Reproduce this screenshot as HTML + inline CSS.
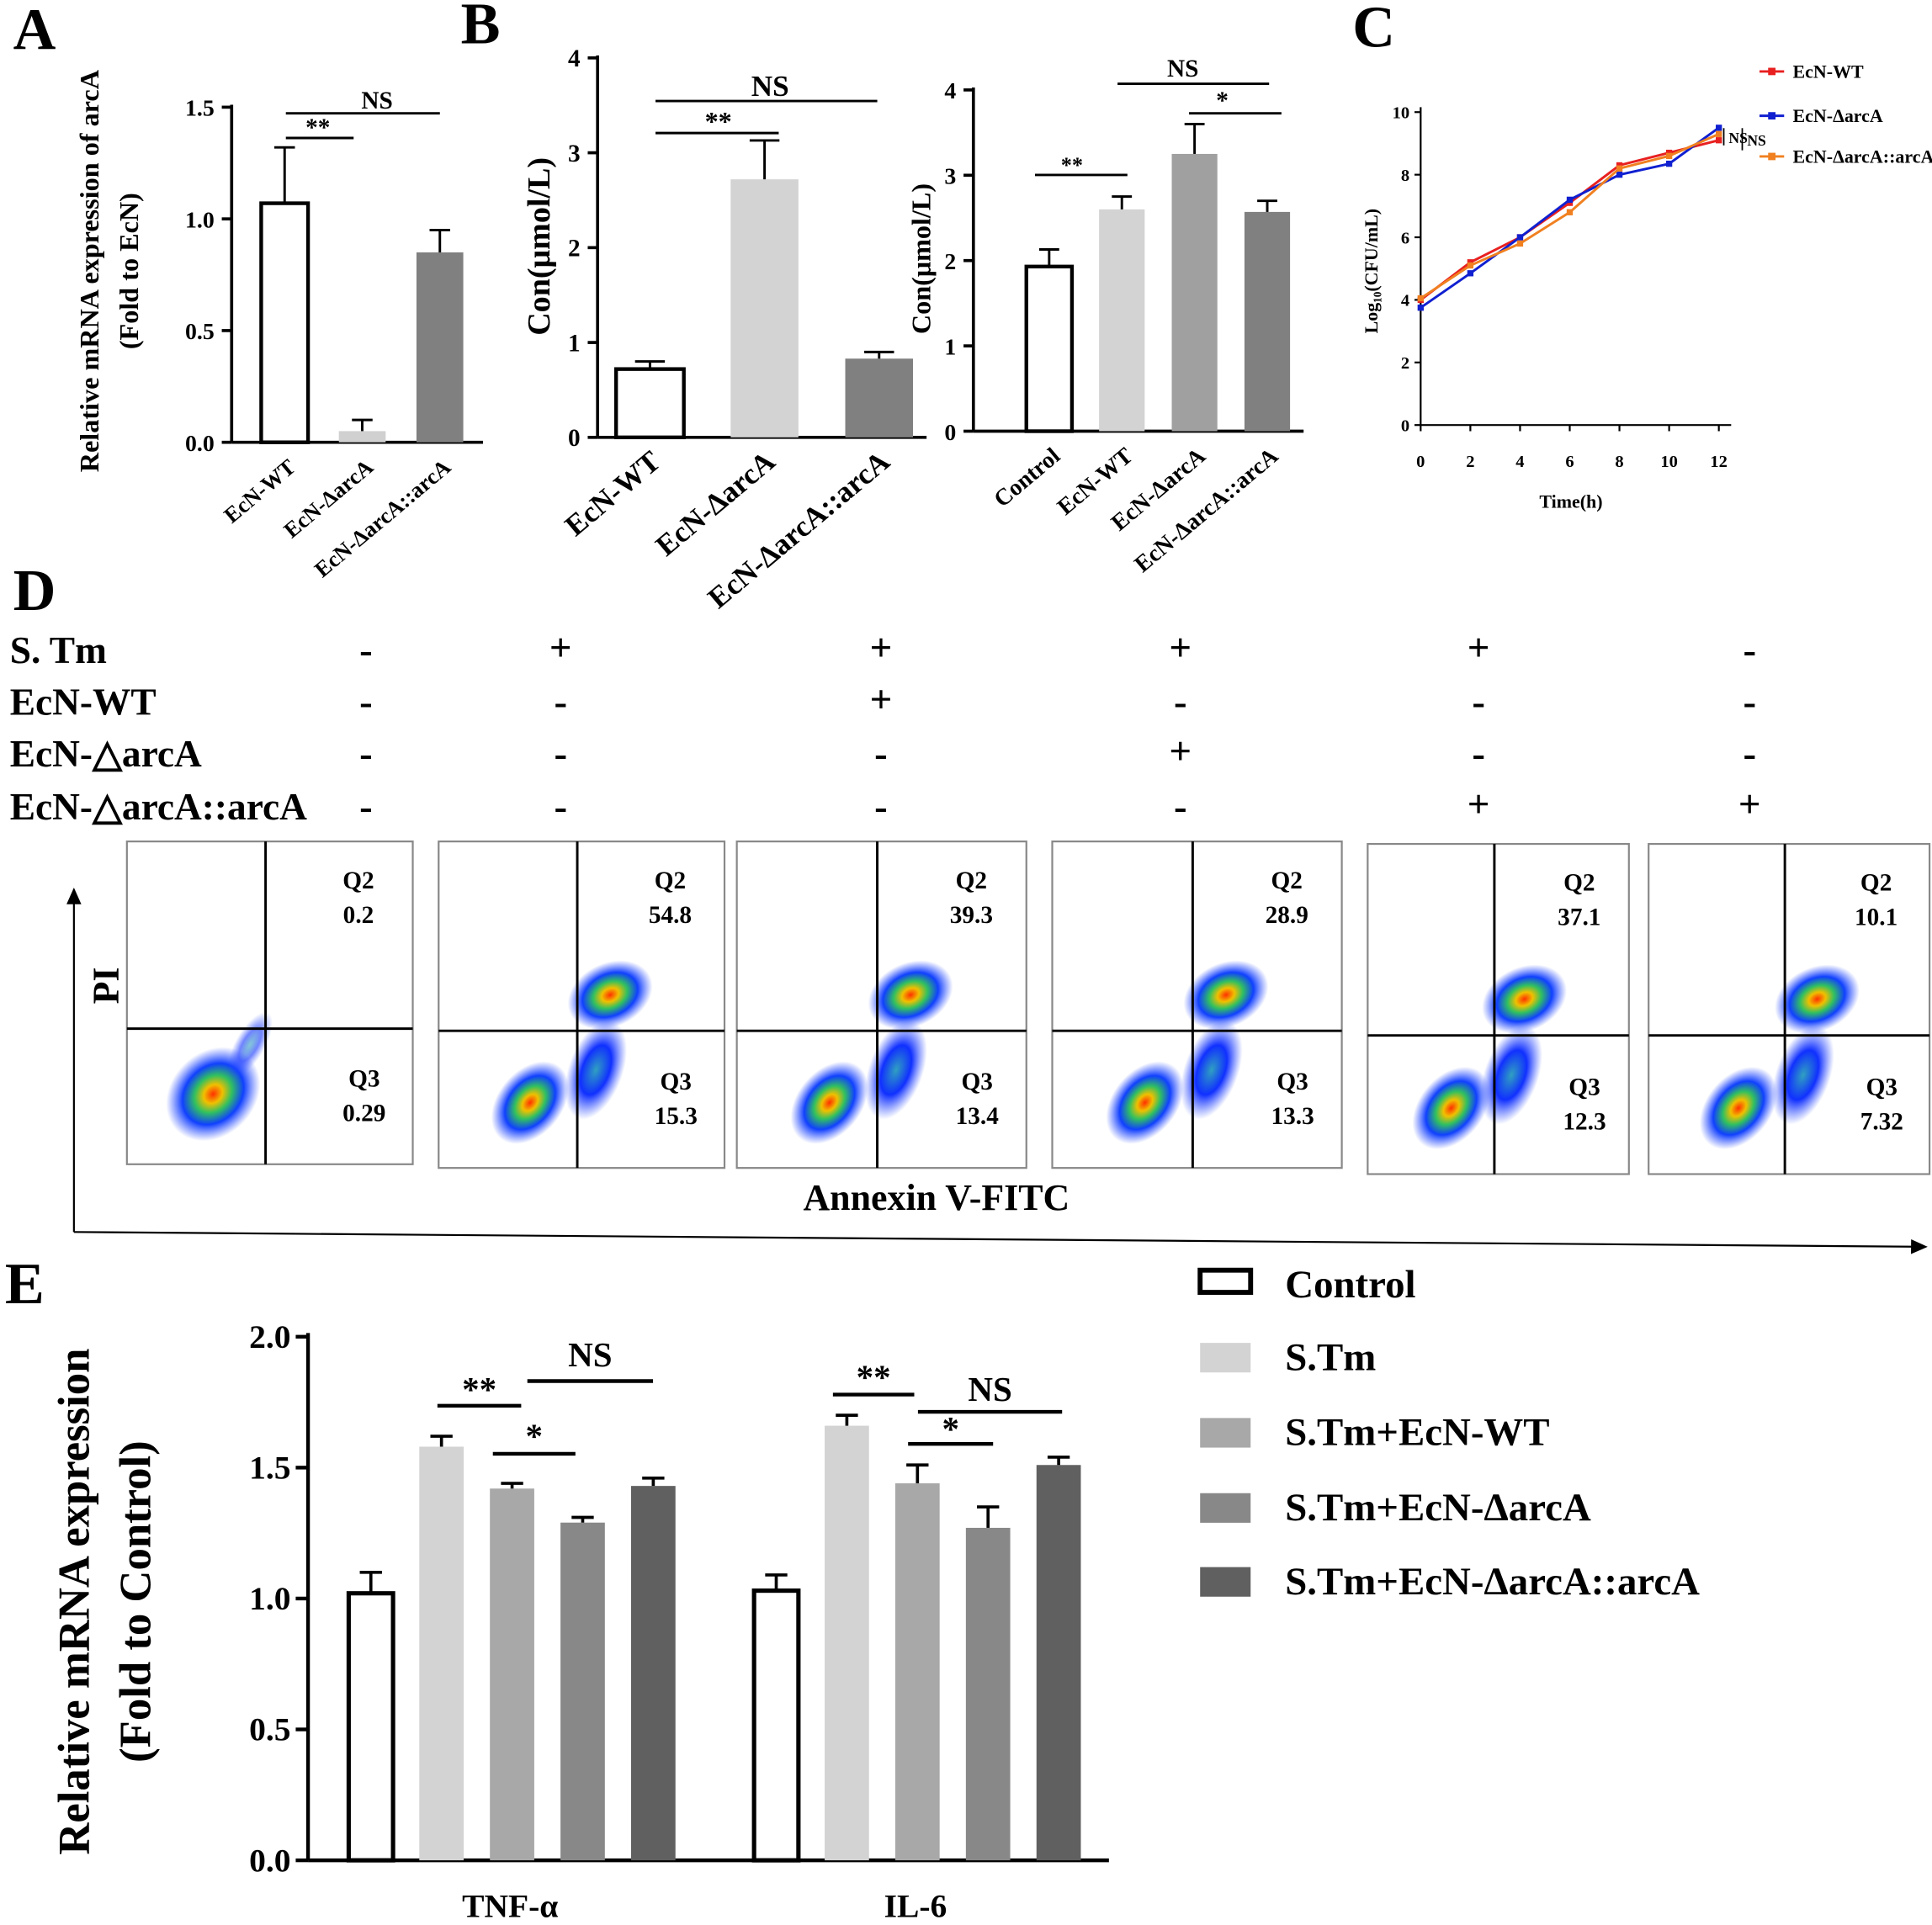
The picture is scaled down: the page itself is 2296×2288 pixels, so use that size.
<!DOCTYPE html>
<html><head><meta charset="utf-8">
<style>
html,body{margin:0;padding:0;background:#fff;}
svg{display:block;font-family:"Liberation Serif",serif;font-weight:bold;}
</style></head>
<body>
<svg id="fig" width="2296" height="2288" viewBox="0 0 1568 1562.5" preserveAspectRatio="none" xmlns="http://www.w3.org/2000/svg">
<defs>
<radialGradient id="blob" cx="50%" cy="50%" r="50%">
<stop offset="0" stop-color="#ff3000"/><stop offset="0.2" stop-color="#f0c000"/><stop offset="0.4" stop-color="#30c060"/><stop offset="0.65" stop-color="#1040ff"/><stop offset="1" stop-color="#3050ff" stop-opacity="0"/>
</radialGradient>
<radialGradient id="blobB" cx="50%" cy="50%" r="50%">
<stop offset="0" stop-color="#30a0c0"/><stop offset="0.5" stop-color="#1030ff"/><stop offset="1" stop-color="#3050ff" stop-opacity="0"/>
</radialGradient>
<marker id="arr" markerWidth="10" markerHeight="10" refX="8" refY="5" orient="auto"><path d="M0,1 L9,5 L0,9 z" fill="#000"/></marker>
</defs>
<g id="root"></g>
</svg>
<script>
// ---------- DATA ----------
const aCats = ["EcN-WT","EcN-ΔarcA","EcN-ΔarcA::arcA"];
const aVals = [1.07,0.05,0.85];
const aErr = [1.32,0.10,0.95];
const b1Cats = ["EcN-WT","EcN-ΔarcA","EcN-ΔarcA::arcA"];
const b1Vals = [0.72,2.72,0.83];
const b1Err = [0.80,3.13,0.90];
const b2Cats = ["Control","EcN-WT","EcN-ΔarcA","EcN-ΔarcA::arcA"];
const b2Vals = [1.93,2.60,3.25,2.57];
const b2Err = [2.13,2.75,3.60,2.70];
const cTimes = [0,2,4,6,8,10,12];
const cWT = [4.0,5.2,6.0,7.1,8.3,8.7,9.1];
const cDel = [3.75,4.85,6.0,7.2,8.0,8.35,9.5];
const cComp = [4.05,5.1,5.8,6.8,8.2,8.6,9.3];
const eGroups = ["TNF-α","IL-6"];
const eSeries = ["Control","S.Tm","S.Tm+EcN-WT","S.Tm+EcN-ΔarcA","S.Tm+EcN-ΔarcA::arcA"];
const eTNF = [1.02,1.58,1.42,1.29,1.43];
const eTNFerr = [1.10,1.62,1.44,1.31,1.46];
const eIL6 = [1.03,1.66,1.44,1.27,1.51];
const eIL6err = [1.09,1.70,1.51,1.35,1.54];
const dQ2 = ["0.2","54.8","39.3","28.9","37.1","10.1"];
const dQ3 = ["0.29","15.3","13.4","13.3","12.3","7.32"];

const NS="http://www.w3.org/2000/svg";
const root=document.getElementById('root');
function el(tag,attrs,parent,text){const e=document.createElementNS(NS,tag);for(const k in attrs)e.setAttribute(k,attrs[k]);if(text!==undefined)e.textContent=text;(parent||root).appendChild(e);return e;}
function line(x1,y1,x2,y2,w,p){return el('line',{x1,y1,x2,y2,stroke:'#000','stroke-width':w||2},p);}
function txt(x,y,s,size,p,anchor,extra){const t=el('text',Object.assign({x,y,'font-size':size,'text-anchor':anchor||'middle'},extra||{}),p,s);return t;}

// ---------- generic bar chart ----------
function barChart(o){
  const g=el('g',{});
  
  
  const y=v=>o.y0-(v-0)*(o.y0-o.yTop)/o.yMax;
  line(o.x0,o.yTop-2,o.x0,o.y0,2.5,g);
  line(o.x0,o.y0,o.xEnd,o.y0,2.5,g);
  o.ticks.forEach(t=>{const ty=y(t);line(o.x0-8,ty,o.x0,ty,2.5,g);
    const lt=txt(o.x0-14,ty+7,o.tickFmt(t),o.tickSize,g,'end');
    });
  o.vals.forEach((v,i)=>{
    const x=o.x0+o.first+i*o.step, w=o.bw;
    const r=el('rect',{x:x,y:y(v),width:w,height:o.y0-y(v),fill:o.fills[i],stroke:o.fills[i]=='#fff'?'#000':'none','stroke-width':3},g);
    
    const cx=x+w/2;
    line(cx,y(v),cx,y(o.err[i]),2,g);line(cx-w*0.22,y(o.err[i]),cx+w*0.22,y(o.err[i]),2,g);
    if(o.cats){const lt=txt(0,0,o.cats[i],o.labSize,g,'end',{transform:`translate(${cx+10},${o.y0+22}) rotate(-40)`});
      }
  });
  return {g,y};
}

// ---------- Panel A ----------
txt(28,40,"A",48);
{barChart({name:'panel-a-chart',x0:188,y0:359,yTop:87,yMax:1.5,xEnd:392,ticks:[0,0.5,1,1.5],tickFmt:t=>t.toFixed(1),tickSize:19,
 vals:aVals,err:aErr,first:24,step:63,bw:38,fills:['#fff','#d0d0d0','#808080'],cats:aCats,labSize:18});
 line(232,112,287,112,2);txt(258,110,"**",20);line(232,92,357,92,2);txt(306,88,"NS",20);
 txt(0,0,"Relative mRNA expression of arcA",22,null,'middle',{transform:'translate(80,220) rotate(-90)'});
 txt(0,0,"(Fold to EcN)",22,null,'middle',{transform:'translate(112,220) rotate(-90)'});}

// ---------- Panel B ----------
txt(390,35,"B",48);
{barChart({name:'panel-b-left-chart',x0:485,y0:355,yTop:47,yMax:4,xEnd:752,ticks:[0,1,2,3,4],tickFmt:t=>String(t),tickSize:20,
 vals:b1Vals,err:b1Err,first:15,step:93,bw:55,fills:['#fff','#d3d3d3','#808080'],cats:b1Cats,labSize:24});
 line(532,108,632,108,2);txt(583,106,"**",22);line(532,82,712,82,2);txt(625,78,"NS",24);
 txt(0,0,"Con(μmol/L)",26,null,'middle',{transform:'translate(446,200) rotate(-90)'});}
{barChart({name:'panel-b-right-chart',x0:790,y0:350,yTop:73,yMax:4,xEnd:1058,ticks:[0,1,2,3,4],tickFmt:t=>String(t),tickSize:19,
 vals:b2Vals,err:b2Err,first:43,step:59,bw:37,fills:['#fff','#d3d3d3','#a0a0a0','#808080'],cats:b2Cats,labSize:19});
 line(840,142,915,142,2);txt(870,140,"**",18);line(907,68,1030,68,2);txt(960,62,"NS",20);line(965,92,1040,92,2);txt(992,88,"*",20);
 txt(0,0,"Con(μmol/L)",22,null,'middle',{transform:'translate(755,210) rotate(-90)'});}

// ---------- Panel C ----------
txt(1115,38,"C",48);
{const g=el('g',{});
 const x0=1153,y0=345,yT=91,xE=1395;
 const X=t=>x0+t*(xE-x0)/12, Y=v=>y0-v*(y0-yT)/10;
 line(x0,yT-4,x0,y0,1.5,g);line(x0,y0,xE+10,y0,1.5,g);
 [0,2,4,6,8,10].forEach(v=>{line(x0-5,Y(v),x0,Y(v),1.5,g);txt(x0-9,Y(v)+5,String(v),14,g,'end');});
 cTimes.forEach(t=>{line(X(t),y0,X(t),y0+5,1.5,g);txt(X(t),y0+34,String(t),14,g);});
 txt(1275,412,"Time(h)",15,g);
 txt(0,0,"Log₁₀(CFU/mL)",15,g,'middle',{transform:'translate(1118,220) rotate(-90)'});
 [[cWT,'#e82020','ecn-wt'],[cDel,'#1020d0','ecn-delta-arca'],[cComp,'#f08020','ecn-complemented']].forEach(([d,col,n])=>{
   const pts=d.map((v,i)=>X(cTimes[i])+','+Y(v)).join(' ');
   const pl=el('polyline',{points:pts,fill:'none',stroke:col,'stroke-width':2},g);
   
   d.forEach((v,i)=>el('rect',{x:X(cTimes[i])-2.5,y:Y(v)-2.5,width:5,height:5,fill:col},g));
 });
 txt(1403,116,"NS",12,g,'start');txt(1418,118,"NS",12,g,'start');
 line(1399,104,1399,118,1.2,g);line(1414,104,1414,122,1.2,g);
 [["EcN-WT",'#e82020',58],["EcN-ΔarcA",'#1020d0',94],["EcN-ΔarcA::arcA",'#f08020',127]].forEach(([s,col,yy])=>{
   line(1428,yy,1448,yy,2,g).setAttribute('stroke',col);el('rect',{x:1435,y:yy-3,width:6,height:6,fill:col},g);
   const lt=txt(1455,yy+5,s,15,g,'start');});
}

// ---------- Panel D ----------
txt(28,495,"D",48);
const rowLabels=["S. Tm","EcN-WT","EcN-△arcA","EcN-△arcA::arcA"];
const rowY=[538,580,622,665];
const colX=[297,455,715,958,1200,1420];
const signs=[["-","+","+","+","+","-"],["-","-","+","-","-","-"],["-","-","-","+","-","-"],["-","-","-","-","+","+"]];
rowLabels.forEach((s,r)=>{const t=txt(8,rowY[r],s,31,null,'start');
 signs[r].forEach((sg,c)=>txt(colX[c],rowY[r]-(sg=='+'?2:0),sg,32));});
const boxes=[[103,683,232,262],[356,683,232,265],[598,683,235,265],[854,683,235,265],[1110,685,212,268],[1338,685,228,268]];
boxes.forEach((b,i)=>{const [x,y,w,h]=b;const g=el('g',{});
 el('rect',{x,y,width:w,height:h,fill:'#fff',stroke:'#888','stroke-width':1.5},g);
 const vx=x+w*0.485, hy=y+h*0.58;
 if(i==0){el('ellipse',{cx:x+70,cy:y+205,rx:42,ry:34,fill:'url(#blob)',transform:`rotate(-45 ${x+70} ${y+205})`},g);
   el('ellipse',{cx:x+100,cy:y+165,rx:30,ry:12,fill:'url(#blobB)',opacity:0.6,transform:`rotate(-60 ${x+100} ${y+165})`},g);}
 else{el('ellipse',{cx:x+w*0.32,cy:y+h*0.8,rx:38,ry:26,fill:'url(#blob)',transform:`rotate(-50 ${x+w*0.32} ${y+h*0.8})`},g);
   el('ellipse',{cx:x+w*0.55,cy:y+h*0.7,rx:42,ry:22,fill:'url(#blobB)',transform:`rotate(-70 ${x+w*0.55} ${y+h*0.7})`},g);
   el('ellipse',{cx:x+w*0.6,cy:y+h*0.47,rx:36,ry:26,fill:'url(#blob)',transform:`rotate(-25 ${x+w*0.6} ${y+h*0.47})`},g);}
 line(vx,y,vx,y+h,2,g);line(x,hy,x+w,hy,2,g);
 txt(x+w*0.81,y+38,"Q2",20,g);txt(x+w*0.81,y+66,dQ2[i],20,g);
 txt(x+w*0.83,y+h*0.76,"Q3",20,g);txt(x+w*0.83,y+h*0.76+28,dQ3[i],20,g);
});
line(60,1000,60,722,1.5).setAttribute('marker-end','url(#arr)');
line(60,1000,1563,1012,1.5).setAttribute('marker-end','url(#arr)');
txt(0,0,"PI",30,null,'middle',{transform:'translate(96,800) rotate(-90)'});
txt(760,982,"Annexin V-FITC",30);

// ---------- Panel E ----------
txt(20,1058,"E",48);
{const fills=['#fff','#d3d3d3','#a8a8a8','#888888','#606060'];
 const x0=250,y0=1510,yT=1085,yMax=2;
 const Y=v=>y0-v*(y0-yT)/yMax;
 const g=el('g',{});
 line(x0,yT-3,x0,y0,3,g);line(x0,y0,900,y0,3,g);
 [0,0.5,1,1.5,2].forEach(t=>{line(x0-10,Y(t),x0,Y(t),3,g);txt(x0-14,Y(t)+9,t.toFixed(1),27,g,'end');});
 const groupStart=[283,612];
 [[eTNF,eTNFerr],[eIL6,eIL6err]].forEach(([vals,errs],gi)=>{
   vals.forEach((v,i)=>{const x=groupStart[gi]+i*57.3,w=36;
     const r=el('rect',{x,y:Y(v),width:w,height:y0-Y(v),fill:fills[i],stroke:i==0?'#000':'none','stroke-width':3.5},g);
     
     const cx=x+w/2;line(cx,Y(v),cx,Y(errs[i]),2.5,g);line(cx-9,Y(errs[i]),cx+9,Y(errs[i]),2.5,g);});
   const lt=txt(groupStart[gi]+131,1556,eGroups[gi],27,g);
 });
 [[355,423,1141,"**",1140],[428,530,1121,"NS",1112],[400,467,1180,"*",1178],[676,742,1132,"**",1130],[745,862,1146,"NS",1140],[737,806,1172,"*",1172]]
  .forEach(([a,b,yy,s,ty])=>{line(a,yy,b,yy,3,g);txt((a+b)/2,ty-3,s,28,g);});
 txt(0,0,"Relative mRNA expression",36,null,'middle',{transform:'translate(72,1300) rotate(-90)'});
 txt(0,0,"(Fold to Control)",36,null,'middle',{transform:'translate(122,1300) rotate(-90)'});
 const ly=[1042,1101,1162,1223,1283];
 eSeries.forEach((s,i)=>{el('rect',{x:974,y:ly[i]-11,width:41,height:i==0?18:24,fill:fills[i],stroke:i==0?'#000':'none','stroke-width':4});
   const lt=txt(1043,ly[i]+11,s,32,null,'start');});
}
</script>
</body></html>
